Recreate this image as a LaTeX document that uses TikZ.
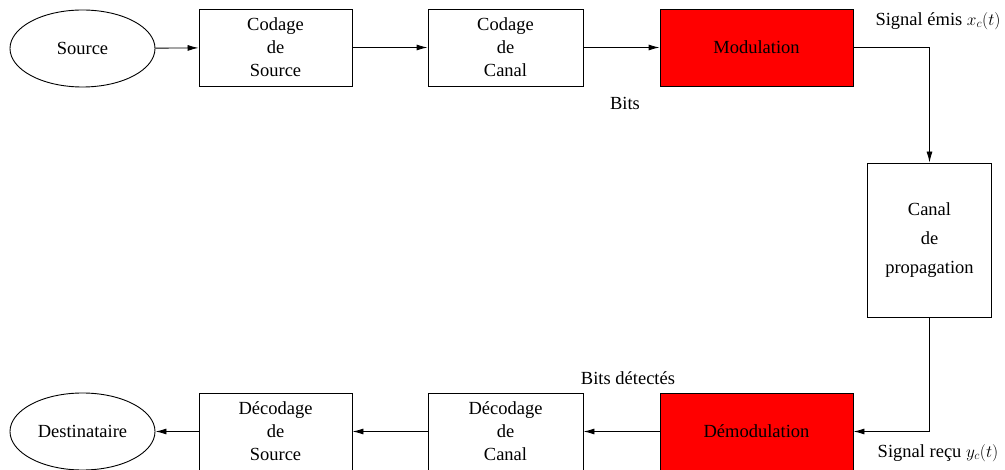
\documentclass[tikz,border=0pt]{standalone}
\usepackage{fontspec}
\setmainfont{Liberation Serif}
\usetikzlibrary{shapes.geometric,arrows.meta}
\definecolor{modred}{RGB}{255,0,0}
\begin{document}
\begin{tikzpicture}[x=1pt,y=-1pt,
  every node/.style={font=\rmfamily\fontsize{18.5}{23}\selectfont},
  blockbox/.style={draw=black,line width=0.9pt,rectangle,inner sep=0pt,align=center,minimum height=77pt},
  ovalbox/.style={draw=black,line width=0.9pt,ellipse,inner sep=0pt,minimum width=145pt,minimum height=77pt},
  redbox/.style={blockbox,fill=modred,minimum width=193pt},
  conn/.style={draw=black,line width=0.9pt,-{Latex[length=11pt,width=6pt]}},
  lbl/.style={inner sep=0pt}
]
\useasboundingbox (0,0) rectangle (1005,470);
% top row
\node[ovalbox] (src) at (82.5,48.5) {Source};
\node[blockbox,minimum width=153pt] (cs) at (275.5,47.5) {Codage\\de\\Source};
\node[blockbox,minimum width=155pt] (cc) at (505.5,47.5) {Codage\\de\\Canal};
\node[redbox] (mod) at (756.5,47.5) {Modulation};
% channel
\node[blockbox,minimum width=124pt,minimum height=154pt,font=\rmfamily\fontsize{18.5}{29}\selectfont] (canal) at (929.5,240) {Canal\\de\\propagation};
% bottom row
\node[redbox] (demod) at (756.5,431.5) {Démodulation};
\node[blockbox,minimum width=155pt] (dcc) at (505.5,431.5) {Décodage\\de\\Canal};
\node[blockbox,minimum width=153pt] (dcs) at (275.5,431.5) {Décodage\\de\\Source};
\node[ovalbox] (dest) at (82.5,431.5) {Destinataire};
% labels
\node[lbl] (lse) at (938,21) {Signal émis $x_c(t)$};
\node[lbl] (lbits) at (625,103) {Bits};
\node[lbl] (lbd) at (628,378) {Bits détectés};
\node[lbl] (lsr) at (938,453) {Signal reçu $y_c(t)$};
% connectors
\draw[conn] (src) -- (cs);
\draw[conn] (cs) -- (cc);
\draw[conn] (cc) -- (mod);
\draw[conn] (mod.east) -| (canal.north);
\draw[conn] (canal.south) |- (demod.east);
\draw[conn] (demod) -- (dcc);
\draw[conn] (dcc) -- (dcs);
\draw[conn] (dcs) -- (dest);
\end{tikzpicture}
\end{document}
